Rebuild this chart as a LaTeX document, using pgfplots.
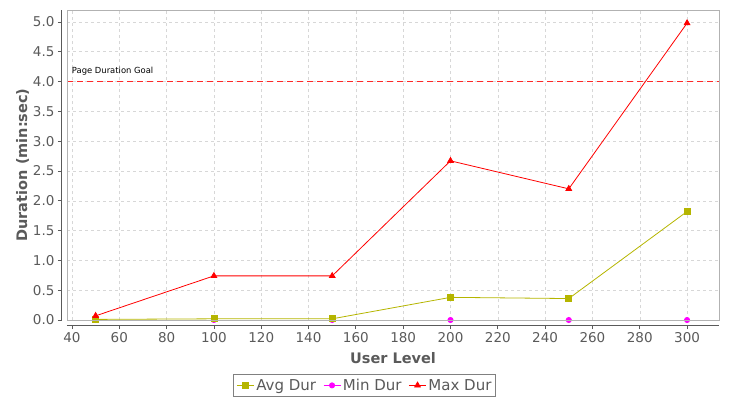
\documentclass[border=0pt]{standalone}
\usepackage{fontspec}
\setmainfont{DejaVu Sans}
\usepackage{pgfplots}
\pgfplotsset{compat=1.18}
\definecolor{avgc}{RGB}{181,181,0}
\definecolor{minc}{RGB}{255,0,255}
\definecolor{maxc}{RGB}{255,0,0}
\definecolor{goalc}{RGB}{255,40,40}
\definecolor{tickc}{RGB}{90,90,90}
\definecolor{gridc}{RGB}{215,215,215}
\begin{document}
\begin{tikzpicture}[x=1pt,y=1pt]
\useasboundingbox (0,0) rectangle (730,400);
\begin{axis}[
  at={(67pt,80pt)}, anchor=south west,
  scale only axis, width=652pt, height=310pt,
  xmin=37.9, xmax=313.5, ymin=0, ymax=5.2,
  axis lines=left,
  axis line style={-, draw=tickc, line width=1pt},
  axis x line shift=5pt, axis y line shift=5pt,
  xtick={40,60,...,300}, ytick={0,0.5,...,5.0},
  yticklabel style={/pgf/number format/.cd, fixed, fixed zerofill, precision=1},
  tick align=outside, major tick length=4pt,
  tick style={draw=tickc, line width=0.8pt},
  ticklabel style={font=\fontsize{13.5}{13.5}\selectfont, text=tickc},
  /pgf/number format/assume math mode=true,
  grid=major, major grid style={draw=gridc, dashed, line width=0.5pt},
  xlabel={\textbf{User Level}}, ylabel={\textbf{Duration (min:sec)}},
  label style={font=\fontsize{14.5}{14.5}\selectfont, text=tickc},
  xlabel style={yshift=-3pt},
  ylabel style={yshift=-3pt},
  legend style={at={(0.457,-0.174)}, anchor=north, legend columns=3, draw=gray, line width=1pt,
    font=\fontsize{15}{15}\selectfont, text=tickc, inner sep=2.5pt,
    /tikz/every even column/.append style={column sep=5pt}},
  legend cell align=left,
  clip=false,
  after end axis/.code={
    \draw[draw=gray!60, line width=0.8pt] (rel axis cs:0,0) rectangle (rel axis cs:1,1);
  },
]
\addplot[minc, line width=0.8pt, mark=*, mark size=2.6pt, forget plot] coordinates {
(50,0) (100,0) (150,0) (200,0) (250,0) (300,0)};
\addplot[avgc, line width=0.8pt, mark=square*, mark size=3pt, mark options={solid}] coordinates {
(50,0.01) (100,0.02) (150,0.02) (200,0.38) (250,0.36) (300,1.82)};
\addlegendentry{Avg Dur}
\addlegendimage{minc, line width=0.8pt, mark=*, mark size=2.6pt}
\addlegendentry{Min Dur}
\addplot[maxc, line width=0.8pt, mark=triangle*, mark size=3.3pt] coordinates {
(50,0.07) (100,0.74) (150,0.74) (200,2.67) (250,2.20) (300,4.98)};
\addlegendentry{Max Dur}
\addplot[goalc, line width=1.4pt, dash pattern=on 6pt off 4pt, mark=none, forget plot] coordinates {(37.9,4.0) (313.5,4.0)};
\node[anchor=south west, font=\fontsize{8.4}{8.4}\selectfont, inner sep=1pt] at (axis cs:39.5,4.08) {Page Duration Goal};
\end{axis}
\end{tikzpicture}
\end{document}
